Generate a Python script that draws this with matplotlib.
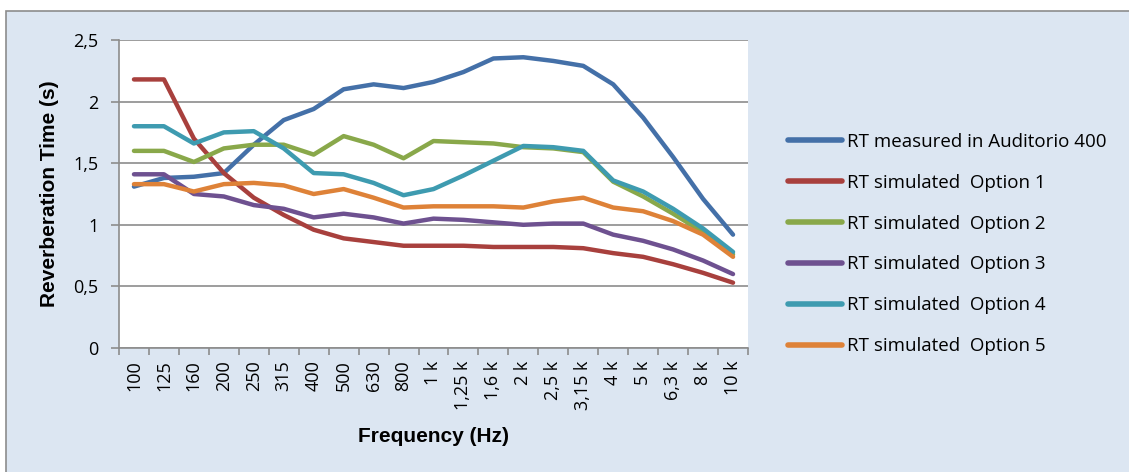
import matplotlib
matplotlib.use("Agg")
import matplotlib.pyplot as plt
from matplotlib.ticker import FixedLocator, FuncFormatter

categories = ["100", "125", "160", "200", "250", "315", "400", "500", "630", "800",
              "1 k", "1,25 k", "1,6 k", "2 k", "2,5 k", "3,15 k", "4 k", "5 k", "6,3 k", "8 k", "10 k"]

measured = [1.31, 1.38, 1.39, 1.42, 1.65, 1.85, 1.94, 2.10, 2.14, 2.11, 2.16, 2.24, 2.35, 2.36, 2.33, 2.29, 2.14, 1.87, 1.55, 1.21, 0.92]
option1 = [2.18, 2.18, 1.70, 1.42, 1.22, 1.08, 0.96, 0.89, 0.86, 0.83, 0.83, 0.83, 0.82, 0.82, 0.82, 0.81, 0.77, 0.74, 0.68, 0.61, 0.53]
option2 = [1.60, 1.60, 1.51, 1.62, 1.65, 1.65, 1.57, 1.72, 1.65, 1.54, 1.68, 1.67, 1.66, 1.63, 1.62, 1.59, 1.35, 1.23, 1.09, 0.94, 0.76]
option3 = [1.41, 1.41, 1.25, 1.23, 1.16, 1.13, 1.06, 1.09, 1.06, 1.01, 1.05, 1.04, 1.02, 1.00, 1.01, 1.01, 0.92, 0.87, 0.80, 0.71, 0.60]
option4 = [1.80, 1.80, 1.66, 1.75, 1.76, 1.62, 1.42, 1.41, 1.34, 1.24, 1.29, 1.40, 1.52, 1.64, 1.63, 1.60, 1.36, 1.27, 1.13, 0.97, 0.78]
option5 = [1.33, 1.33, 1.27, 1.33, 1.34, 1.32, 1.25, 1.29, 1.22, 1.14, 1.15, 1.15, 1.15, 1.14, 1.19, 1.22, 1.14, 1.11, 1.03, 0.92, 0.74]

series = [
    ("RT measured in Auditorio 400", measured, "#4470A8"),
    ("RT simulated  Option 1", option1, "#A8403D"),
    ("RT simulated  Option 2", option2, "#89A84A"),
    ("RT simulated  Option 3", option3, "#6E5190"),
    ("RT simulated  Option 4", option4, "#3E9BB0"),
    ("RT simulated  Option 5", option5, "#DE8238"),
]

bg = "#DCE6F2"
W, H = 1129, 472
fig = plt.figure(figsize=(W / 100, H / 100), dpi=100, facecolor="white")
frame = plt.Rectangle((6 / W, -0.01), 1.02, 1 - 11 / H + 0.01, transform=fig.transFigure,
                      facecolor=bg, edgecolor="#8C8C8C", lw=1.2, zorder=-10)
fig.add_artist(frame)

ax = fig.add_axes([119 / W, (H - 348) / H, (748 - 119) / W, (348 - 40) / H])
ax.set_zorder(1)
ax.set_facecolor("white")

x = list(range(len(categories)))
for name, vals, col in series:
    ax.plot(x, vals, color=col, lw=3.2, label=name, solid_capstyle="round", solid_joinstyle="round")

ax.set_xlim(-0.5, len(categories) - 0.5)
ax.set_ylim(0, 2.5)
ax.set_yticks([0, 0.5, 1, 1.5, 2, 2.5])
ax.yaxis.set_major_formatter(FuncFormatter(lambda v, p: ("%g" % v).replace(".", ",")))
ax.yaxis.grid(True, color="#8C8C8C", lw=1.2)
ax.set_axisbelow(True)

ax.set_xticks(x)
ax.set_xticklabels(categories, rotation=90, fontfamily="Open Sans", fontsize=13)
ax.tick_params(axis="x", which="major", length=0, pad=9)
ax.xaxis.set_minor_locator(FixedLocator([i - 0.5 for i in range(len(categories) + 1)]))
ax.tick_params(axis="x", which="minor", length=5, color="#8C8C8C", direction="out", width=1.2)
ax.tick_params(axis="y", length=6, color="#8C8C8C", direction="out", width=1.2, labelsize=13, pad=9)
for lab in ax.get_yticklabels():
    lab.set_fontfamily("Open Sans")

for s in ["top", "right"]:
    ax.spines[s].set_visible(False)
for s in ["left", "bottom"]:
    ax.spines[s].set_color("#8C8C8C")
    ax.spines[s].set_linewidth(1.2)

ax.set_xlabel("Frequency (Hz)", fontfamily="Liberation Sans", fontweight="bold", fontsize=15, labelpad=12)
ax.set_ylabel("Reverberation Time (s)", fontfamily="Liberation Sans", fontweight="bold", fontsize=15, labelpad=10)

leg = ax.legend(loc="center left", frameon=False,
                prop={"family": "Open Sans", "size": 13.5}, handlelength=2.9, handletextpad=0.25,
                labelspacing=1.22, borderpad=0, borderaxespad=0)
leg.set_bbox_to_anchor((788 / W, (H - 244) / H), transform=fig.transFigure)
for h in leg.legend_handles:
    h.set_linewidth(4)

fig.savefig("out.png", dpi=100, facecolor="white")
